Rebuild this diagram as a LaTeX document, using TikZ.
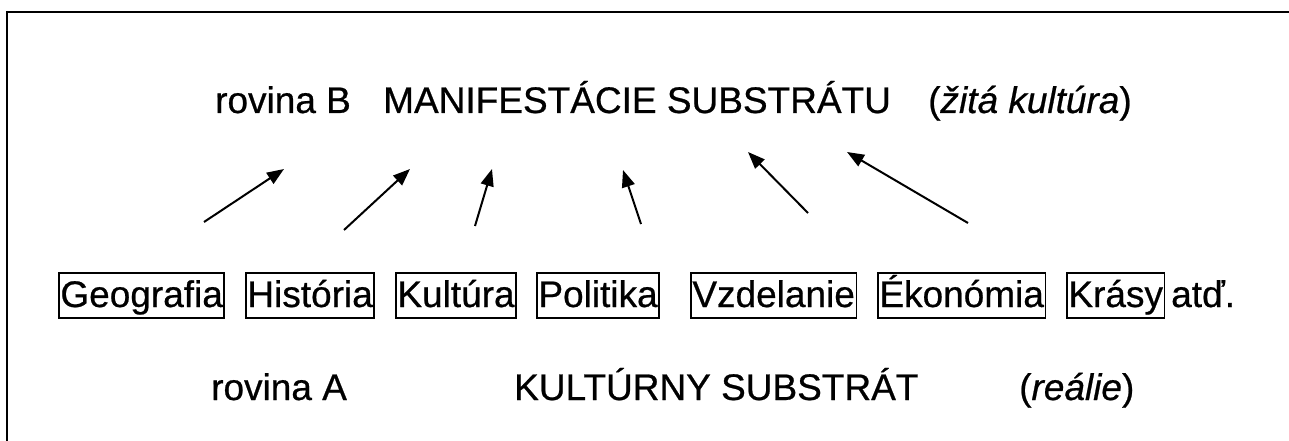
\documentclass[tikz,border=0pt]{standalone}
\usepackage{fontspec}
\setmainfont{Liberation Sans}[FakeBold=0.6]
\usetikzlibrary{arrows.meta}
\begin{document}
\begin{tikzpicture}[x=1pt,y=-1pt,
  lbl/.style={anchor=base west,inner sep=0pt,font=\fontsize{37}{44}\selectfont},
  boxed/.style={lbl,draw,line width=1.8pt,inner xsep=1.5pt,inner ysep=0pt,
                text height=34pt,text depth=11pt},
  arr/.style={line width=2pt,-{Triangle[length=17pt,width=13pt]}},
  frameline/.style={line width=2.5pt}]
  \useasboundingbox (0,0) rectangle (1289,441);
  % open frame: top and left edges
  \draw[frameline] (6,12) -- (1289,12);
  \draw[frameline] (7,11) -- (7,441);

  % level B
  \node[lbl] (rovB)  at (215,113) {rovina B};
  \node[lbl] (manif) at (383,113) {MANIFESTÁCIE SUBSTRÁTU};
  \node[lbl] (zita)  at (928,113) {(\textit{žitá kultúra})};

  % boxed components of the substrate
  \node[boxed] (geo)  at (58,307)   {Geografia};
  \node[boxed] (hist) at (245,307)  {História};
  \node[boxed] (kult) at (395,307)  {Kultúra};
  \node[boxed] (pol)  at (536,307)  {Politika\ };
  \node[boxed] (vzd)  at (690,307)  {Vzdelanie};
  \node[boxed] (eko)  at (877,307)  {Ékonómia};
  \node[boxed] (kras) at (1066,307) {Krásy};
  \node[lbl]   (atd)  at (1171,307) {atď.};

  % level A
  \node[lbl] (rovA)   at (211,400) {rovina A};
  \node[lbl] (subs)   at (514,400) {KULTÚRNY SUBSTRÁT};
  \node[lbl] (realie) at (1019,400) {(\textit{reálie})};

  % arrows from the substrate up to its manifestations
  \coordinate (t1) at (204,222); \coordinate (h1) at (284,169);
  \coordinate (t2) at (344,230); \coordinate (h2) at (410,169);
  \coordinate (t3) at (475,226); \coordinate (h3) at (492,169);
  \coordinate (t4) at (641,224); \coordinate (h4) at (623,170);
  \coordinate (t5) at (808,213); \coordinate (h5) at (748,152);
  \coordinate (t6) at (968,223); \coordinate (h6) at (847,152);
  \foreach \i in {1,...,6} \draw[arr] (t\i) -- (h\i);
\end{tikzpicture}
\end{document}
